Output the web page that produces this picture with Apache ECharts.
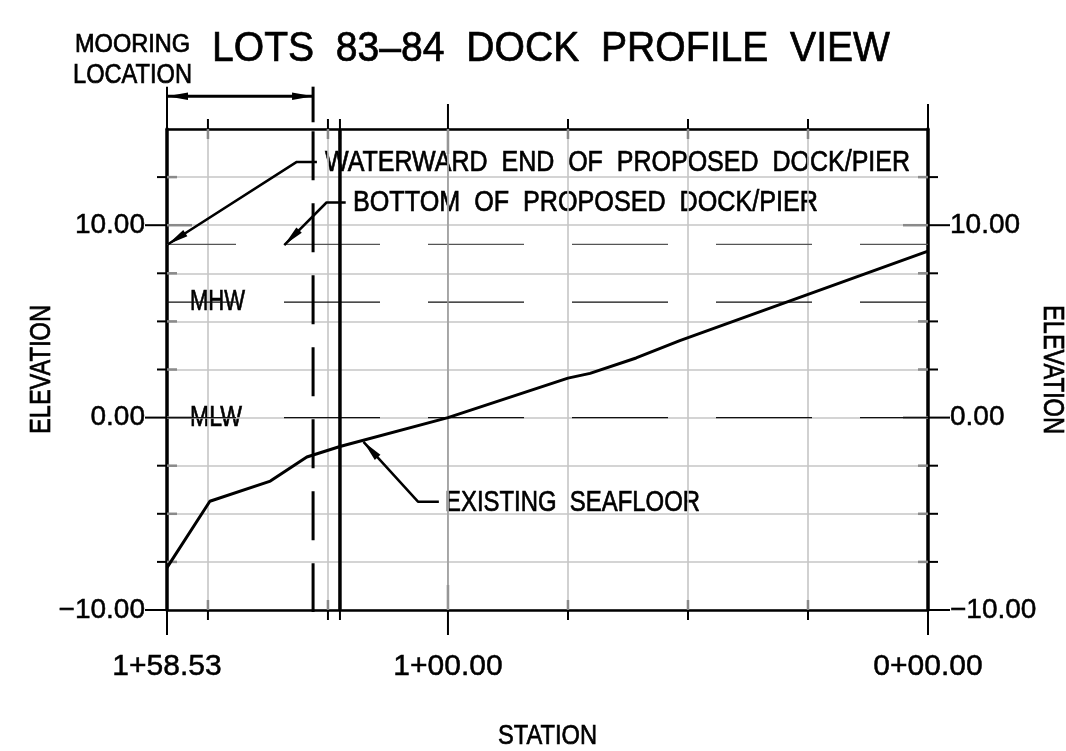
<!DOCTYPE html>
<html>
<head>
<meta charset="utf-8">
<title>Lots 83-84 Dock Profile View</title>
<script src="https://cdn.jsdelivr.net/npm/echarts@6/dist/echarts.min.js"></script>
<style>
	html, body { margin: 0; padding: 0; background: #fff; }
	#profile { width: 1066px; height: 751px; }
</style>
</head>
<body>
<div id="profile"></div>
<script>
// values: [station, elevation]
var seafloor = [[158.53, -7.8], [149.6, -4.35], [137, -3.3], [129.4, -2.05], [122.5, -1.5], [100, 0], [75, 2.05], [70.4, 2.3], [60.8, 3.1], [51.7, 4], [0, 8.65]];
var waterLevels = [9, 6, 0];
var stationLabelValues = [158.53, 100, 0];
var stationTickLabels = ['1+58.53', '1+00.00', '0+00.00'];
var elevationLabelValues = [-10, 0, 10];
var dockStation = 128.1;
var pierStation = 122.5;
var waterwardLeader = [[158.4, 9], [131.5, 13.29], [127.3, 13.29]];
var bottomLeader = [[134.1, 8.97], [125.3, 11.18], [121.3, 11.18]];
var seafloorLeader = [[117.6, -1.26], [106.25, -4.37], [101.9, -4.37]];
var mooringDim = [[158.53, 16.7], [dockStation, 16.7]];
var stationTicks = [[150, 10], [125, 10], [pierStation, 10], [100, 25], [75, 10], [50, 10], [25, 10], [158.53, 25], [0, 25]];
var elevationTicks = [[12.5, 10], [10, 25], [7.5, 10], [5, 10], [2.5, 10], [0, 25], [-2.5, 10], [-5, 10], [-7.5, 10], [-10, 25]];

var FONT = 'Liberation Sans';
var BLACK = '#000';
var GRID = '#c6c6c6';
var TICK_IN = '#8a8a8a';

var measure = document.createElement('canvas').getContext('2d');

function seg(x1, y1, x2, y2, color, width) {
	return { type: 'line', shape: { x1: x1, y1: y1, x2: x2, y2: y2 }, style: { stroke: color, lineWidth: width }, silent: true };
}

function renderStationTick(params, api) {
	var station = api.value(0);
	var top = api.coord([station, 15]);
	var bottom = api.coord([station, -10]);
	var len = api.value(1);
	var children = [
		seg(top[0], top[1] - len, top[0], top[1], BLACK, 2),
		seg(bottom[0], bottom[1], bottom[0], bottom[1] + len, BLACK, 2)
	];
	if (station !== 158.53 && station !== 0) {
		children.push(seg(top[0], top[1], top[0], top[1] + len, TICK_IN, 2.5));
		children.push(seg(bottom[0], bottom[1] - len, bottom[0], bottom[1], TICK_IN, 2.5));
	}
	return { type: 'group', children: children };
}

function renderElevationTick(params, api) {
	var elev = api.value(0);
	var left = api.coord([158.53, elev]);
	var right = api.coord([0, elev]);
	var len = api.value(1);
	var children = [
		seg(left[0] - len + (len > 10 ? 3 : 0), left[1], left[0], left[1], BLACK, 2),
		seg(right[0], right[1], right[0] + len - (len > 10 ? 3 : 0), right[1], BLACK, 2)
	];
	if (elev !== -10) {
		children.push(seg(left[0], left[1], left[0] + len, left[1], TICK_IN, 2.5));
		children.push(seg(right[0] - len, right[1], right[0], right[1], TICK_IN, 2.5));
	}
	return { type: 'group', children: children };
}

// value: tip station, tip elevation, tail station, tail elevation
function renderArrow(params, api) {
	var tip = api.coord([api.value(0), api.value(1)]);
	var tail = api.coord([api.value(2), api.value(3)]);
	var a = Math.atan2(tail[1] - tip[1], tail[0] - tip[0]);
	var len = 21, half = 3.8;
	var bx = tip[0] + Math.cos(a) * len;
	var by = tip[1] + Math.sin(a) * len;
	return {
		type: 'polygon',
		shape: { points: [tip, [bx - Math.sin(a) * half, by + Math.cos(a) * half], [bx + Math.sin(a) * half, by - Math.cos(a) * half]] },
		style: { fill: BLACK },
		silent: true
	};
}

function plainLine(data, width, type, color, offset) {
	return {
		type: 'line',
		data: data,
		symbol: 'none',
		clip: false,
		silent: true,
		z: 4,
		lineStyle: { color: color || BLACK, width: width, type: type || 'solid', dashOffset: offset || 0 }
	};
}

// the drawing's lettering is tall and narrow, so squeeze each text to its measured run
function labelText(text, x, y, size, run, rotation) {
	var font = size + 'px "' + FONT + '"';
	measure.font = font;
	return {
		type: 'text',
		x: x,
		y: y,
		rotation: rotation || 0,
		scaleX: run / measure.measureText(text).width,
		silent: true,
		style: { text: text, fill: BLACK, stroke: BLACK, lineWidth: 0.7, font: font, textAlign: 'left', textVerticalAlign: 'middle' }
	};
}

var series = [
	plainLine([[100, 15], [100, -10]], 1.5, 'solid', '#9a9a9a'),
	plainLine([[pierStation, 15], [pierStation, -10]], 3.5),
	plainLine([[dockStation, 17.2], [dockStation, 15.35]], 3),
	plainLine([[dockStation, 14.88], [dockStation, -10.1]], 3, [49, 23]),
	plainLine([[158.53, 17.2], [158.53, 15]], 2),
	plainLine(mooringDim, 3),
	plainLine(waterwardLeader, 2.5),
	plainLine(bottomLeader, 2.5),
	plainLine(seafloorLeader, 2.5),
	plainLine(seafloor, 3)
];

waterLevels.forEach(function (level) {
	var s = plainLine([[158.53, level], [0, level]], 1.2, [96, 48], level === 9 ? '#555' : '#111', 27);
	s.z = 3;
	series.push(s);
});

series.push({
	type: 'custom',
	renderItem: renderStationTick,
	data: stationTicks,
	encode: { x: 0 },
	z: 3
});
series.push({
	type: 'custom',
	renderItem: renderElevationTick,
	data: elevationTicks,
	encode: { y: 0 },
	z: 3
});
series.push({
	type: 'custom',
	renderItem: renderArrow,
	data: [
		[mooringDim[0][0], mooringDim[0][1], mooringDim[1][0], mooringDim[1][1]],
		[mooringDim[1][0], mooringDim[1][1], mooringDim[0][0], mooringDim[0][1]],
		[waterwardLeader[0][0], waterwardLeader[0][1], waterwardLeader[1][0], waterwardLeader[1][1]],
		[bottomLeader[0][0], bottomLeader[0][1], bottomLeader[1][0], bottomLeader[1][1]],
		[seafloorLeader[0][0], seafloorLeader[0][1], seafloorLeader[1][0], seafloorLeader[1][1]]
	],
	encode: { x: [0, 2], y: [1, 3] },
	z: 5
});

function elevationLabel(v) {
	return v < 0 ? '\u2212' + Math.abs(v).toFixed(2) : v.toFixed(2);
}

var chart = echarts.init(document.getElementById('profile'));

chart.setOption({
	animation: false,
	backgroundColor: '#fff',
	textStyle: { fontFamily: FONT },
	grid: { left: 167, right: 138, top: 129, bottom: 141, outerBoundsMode: 'none' },
	xAxis: [
		{
			type: 'value',
			inverse: true,
			min: 0,
			max: 158.53,
			interval: 25,
			position: 'bottom',
			axisLine: { onZero: false, lineStyle: { color: BLACK, width: 2.6 } },
			axisTick: { show: false },
			splitLine: { show: true, lineStyle: { color: GRID, width: 1.6 } },
			axisLabel: {
				customValues: stationLabelValues,
				margin: 42,
				color: BLACK,
				fontFamily: FONT,
				fontSize: 30,
				textBorderColor: BLACK,
				textBorderWidth: 0.5,
				hideOverlap: false,
				formatter: function (v) {
					return stationTickLabels[stationLabelValues.indexOf(v)];
				}
			}
		},
		{
			type: 'value',
			inverse: true,
			min: 0,
			max: 158.53,
			interval: 25,
			position: 'top',
			axisLine: { onZero: false, lineStyle: { color: BLACK, width: 2.6 } },
			axisTick: { show: false },
			axisLabel: { show: false },
			splitLine: { show: false }
		}
	],
	yAxis: [
		{
			type: 'value',
			min: -10,
			max: 15,
			interval: 2.5,
			position: 'left',
			axisLine: { show: true, onZero: false, lineStyle: { color: BLACK, width: 3.5 } },
			axisTick: { show: false },
			splitLine: { show: true, lineStyle: { color: GRID, width: 1.6 } },
			axisLabel: {
				customValues: elevationLabelValues,
				margin: 22,
				color: BLACK,
				fontFamily: FONT,
				fontSize: 28,
				textBorderColor: BLACK,
				textBorderWidth: 0.5,
				formatter: elevationLabel
			}
		},
		{
			type: 'value',
			min: -10,
			max: 15,
			interval: 2.5,
			position: 'right',
			axisLine: { show: true, onZero: false, lineStyle: { color: BLACK, width: 3.5 } },
			axisTick: { show: false },
			splitLine: { show: false },
			axisLabel: {
				customValues: elevationLabelValues,
				margin: 22,
				color: BLACK,
				fontFamily: FONT,
				fontSize: 28,
				textBorderColor: BLACK,
				textBorderWidth: 0.5,
				formatter: elevationLabel
			}
		}
	],
	graphic: [
		labelText('LOTS  83\u201384  DOCK  PROFILE  VIEW', 212, 49, 42, 678),
		labelText('MOORING', 75, 45, 25, 115),
		labelText('LOCATION', 73, 76, 27, 119),
		labelText('WATERWARD  END  OF  PROPOSED  DOCK/PIER', 325, 163, 30, 585),
		labelText('BOTTOM  OF  PROPOSED  DOCK/PIER', 353, 203, 30, 465),
		labelText('EXISTING  SEAFLOOR', 445, 503, 30, 255),
		labelText('MHW', 190, 302, 29, 55),
		labelText('MLW', 190, 418, 29, 52),
		labelText('STATION', 498, 736, 28, 99),
		labelText('ELEVATION', 42, 434, 30, 129, Math.PI / 2),
		labelText('ELEVATION', 1052, 305, 30, 129, -Math.PI / 2)
	],
	series: series
});
</script>
</body>
</html>
